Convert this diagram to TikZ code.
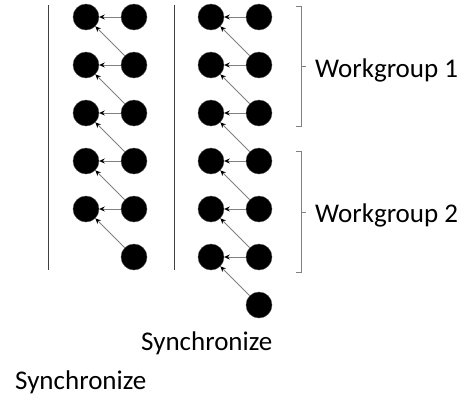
\documentclass[tikz,border=0pt]{standalone}
\usepackage{fontspec}
\setmainfont{Carlito}
\usetikzlibrary{arrows.meta}
\begin{document}
\begin{tikzpicture}[x=1pt,y=-1pt,
  dot/.style={circle,fill=black,draw=black!70,line width=0.4pt,minimum size=26pt,inner sep=0pt},
  dep/.style={draw=black!50,line width=0.8pt,-{Stealth[black,length=5.5pt,width=5pt]}},
  barrier/.style={draw=black!75,line width=1pt},
  brace/.style={draw=black!50,line width=0.9pt},
  label/.style={font=\fontsize{27}{30}\selectfont,inner sep=0pt,anchor=base west}]
\useasboundingbox (0,0) rectangle (466,397);

% left set: 5 + 6 work items
\foreach \i/\y in {1/17,2/65,3/113,4/161,5/209}
  \node[dot] (la\i) at (86,\y) {};
\foreach \i/\y in {1/17,2/65,3/113,4/161,5/209,6/257}
  \node[dot] (lb\i) at (134,\y) {};
\foreach \i [evaluate=\i as \j using int(\i+1)] in {1,...,5} {
  \draw[dep] (lb\i) -- (la\i);
  \draw[dep] (lb\j) -- (la\i);
}

% right set: 6 + 7 work items
\foreach \i/\y in {1/17,2/65,3/113,4/161,5/209,6/257}
  \node[dot] (ra\i) at (211,\y) {};
\foreach \i/\y in {1/17,2/65,3/113,4/161,5/209,6/257,7/305}
  \node[dot] (rb\i) at (259,\y) {};
\foreach \i [evaluate=\i as \j using int(\i+1)] in {1,...,6} {
  \draw[dep] (rb\i) -- (ra\i);
  \draw[dep] (rb\j) -- (ra\i);
}

% synchronization barriers
\coordinate (s1t) at (48,5);   \coordinate (s1b) at (48,270);
\coordinate (s2t) at (174,5);  \coordinate (s2b) at (174,270);
\draw[barrier] (s1t) -- (s1b);
\draw[barrier] (s2t) -- (s2b);

% workgroup braces
\draw[brace] (296,6) -- (301,6) -- (301,66) -- (306,66) (301,66) -- (301,126) -- (296,126);
\draw[brace] (296,151) -- (301,151) -- (301,212) -- (306,212) (301,212) -- (301,272) -- (296,272);

\node[label] (wg1) at (315,77) {Workgroup 1};
\node[label] (wg2) at (315,222) {Workgroup 2};
\node[label] (sy1) at (141,350) {Synchronize};
\node[label] (sy2) at (15,389) {Synchronize};
\end{tikzpicture}
\end{document}
